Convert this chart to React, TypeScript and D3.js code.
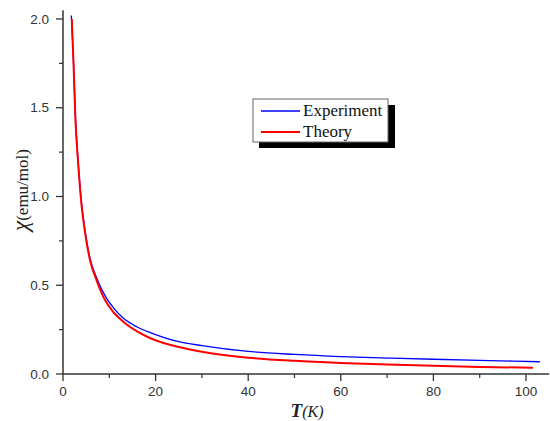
import * as d3 from 'd3';
import React from 'react';

// readings: [T (K), chi (emu/mol)]
const experiment: [number, number][] = [
  [1.8, 2.02], [2.3, 1.74], [2.66, 1.46], [3.24, 1.21], [3.9, 0.99], [4.75, 0.81],
  [5.8, 0.655], [7.3, 0.54], [9.1, 0.44], [11, 0.37], [13, 0.315], [16, 0.265],
  [19, 0.232], [25, 0.182], [30, 0.16], [40, 0.127], [50, 0.11], [60, 0.098],
  [70, 0.09], [80, 0.083], [90, 0.077], [103, 0.069]
];
const theory: [number, number][] = [
  [1.9, 2.0], [2.3, 1.73], [2.66, 1.45], [3.24, 1.2], [3.9, 0.98], [4.75, 0.8],
  [5.8, 0.645], [7.3, 0.525], [9.1, 0.415], [11, 0.345], [13, 0.295], [16, 0.24],
  [19, 0.2], [25, 0.152], [30, 0.125], [40, 0.092], [50, 0.074], [60, 0.062],
  [70, 0.053], [80, 0.046], [90, 0.04], [101.5, 0.035]
];
const xTicks = [0, 20, 40, 60, 80, 100];
const xMinor = [10, 30, 50, 70, 90];
const yTicks = [0, 0.5, 1.0, 1.5, 2.0];
const yMinor = [0.25, 0.75, 1.25, 1.75];

const width = 550;
const height = 421;
const left = 63;
const bottom = 374;

const x = d3.scaleLinear().domain([0, 105]).range([left, left + 105 * 4.63]);
const y = d3.scaleLinear().domain([0, 2.05]).range([bottom, bottom - 2.05 * 177.5]);

const line = d3.line<[number, number]>()
  .x(d => x(d[0]))
  .y(d => y(d[1]))
  .curve(d3.curveMonotoneX);

const axisColor = '#333';
const sans = 'Arial, "Liberation Sans", sans-serif';
const serif = '"Times New Roman", "Liberation Serif", serif';

export default function App() {
  return (
    <svg width={width} height={height} style={{ position: 'absolute', left: 0, top: 0 }}>
      <rect width={width} height={height} fill="#fff" />

      {/* y axis */}
      <line x1={left} x2={left} y1={y(2.05)} y2={bottom} stroke={axisColor} strokeWidth={1.5} />
      {yTicks.map(t => (
        <g key={'y' + t}>
          <line x1={left - 7} x2={left} y1={y(t)} y2={y(t)} stroke={axisColor} strokeWidth={1.3} />
          <text x={left - 14} y={y(t)} dy="0.35em" textAnchor="end" fontFamily={sans} fontSize={13.5} fill="#333">
            {d3.format('.1f')(t)}
          </text>
        </g>
      ))}
      {yMinor.map(t => (
        <line key={'ym' + t} x1={left - 4} x2={left} y1={y(t)} y2={y(t)} stroke={axisColor} strokeWidth={1.2} />
      ))}

      {/* x axis */}
      <line x1={left} x2={x(105)} y1={bottom} y2={bottom} stroke={axisColor} strokeWidth={1.5} />
      {xTicks.map(t => (
        <g key={'x' + t}>
          <line x1={x(t)} x2={x(t)} y1={bottom} y2={bottom + 7} stroke={axisColor} strokeWidth={1.3} />
          <text x={x(t)} y={bottom + 22} textAnchor="middle" fontFamily={sans} fontSize={13.5} fill="#333">
            {t}
          </text>
        </g>
      ))}
      {xMinor.map(t => (
        <line key={'xm' + t} x1={x(t)} x2={x(t)} y1={bottom} y2={bottom + 4} stroke={axisColor} strokeWidth={1.2} />
      ))}

      {/* axis titles */}
      <text x={307} y={417} textAnchor="middle" fontFamily={serif} fill="#222">
        <tspan fontSize={19} fontWeight="bold" fontStyle="italic">T</tspan>
        <tspan fontSize={16} fontStyle="italic">(K)</tspan>
      </text>
      <text transform="translate(28,190) rotate(-90)" textAnchor="middle" fontFamily={serif} fill="#222">
        <tspan fontSize={23} fontStyle="italic">χ</tspan>
        <tspan fontSize={17}>(emu/mol)</tspan>
      </text>

      {/* curves */}
      <path d={line(experiment) ?? ''} fill="none" stroke="#0000ff" strokeWidth={1.3} />
      <path d={line(theory) ?? ''} fill="none" stroke="#ff0000" strokeWidth={2} />

      {/* legend */}
      <rect x={259} y={105} width={136} height={43} fill="#000" />
      <rect x={253} y={99} width={135} height={43} fill="#fff" stroke="#666" strokeWidth={1} />
      <line x1={261} x2={300} y1={111} y2={111} stroke="#0000ff" strokeWidth={1.3} />
      <line x1={261} x2={300} y1={132} y2={132} stroke="#ff0000" strokeWidth={2} />
      <text x={303} y={116} fontFamily={serif} fontSize={17} fill="#111">Experiment</text>
      <text x={303} y={137} fontFamily={serif} fontSize={17} fill="#111">Theory</text>
    </svg>
  );
}
